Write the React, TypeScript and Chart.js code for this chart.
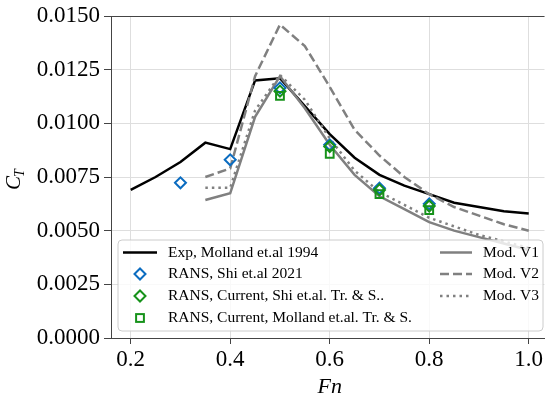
import React, { useEffect, useRef } from 'react';
import { Chart, registerables } from 'chart.js';

Chart.register(...registerables);

// ---- Data ----
const FN_EXP = [0.2, 0.25, 0.3, 0.35, 0.4, 0.45, 0.5, 0.55, 0.6, 0.65, 0.7, 0.75, 0.8, 0.85, 0.9, 0.95, 1.0];
const CT_EXP = [0.0069, 0.0075, 0.0082, 0.0091, 0.0088, 0.0120, 0.0121, 0.0108, 0.0095, 0.0084, 0.0076, 0.0071, 0.0067, 0.0063, 0.0061, 0.0059, 0.0058];

const FN_SHI = [0.3, 0.4, 0.5, 0.6, 0.7, 0.8];
const CT_SHI = [0.00723, 0.0083, 0.01165, 0.0090, 0.00698, 0.00625];

const FN_CUR = [0.5, 0.6, 0.7, 0.8];
const CT_CUR_SHI = [0.0115, 0.00892, 0.0069, 0.00615];
const CT_CUR_MOL = [0.01128, 0.00858, 0.0067, 0.00596];

const FN_MOD = [0.35, 0.4, 0.45, 0.5, 0.55, 0.6, 0.65, 0.7, 0.75, 0.8, 0.85, 0.9, 0.95, 1.0];
const CT_V1 = [0.00643, 0.00674, 0.0103, 0.0122, 0.0107, 0.0090, 0.0076, 0.0066, 0.0060, 0.0054, 0.0050, 0.0047, 0.0044, 0.0041];
const CT_V2 = [0.0075, 0.0079, 0.0122, 0.0146, 0.0136, 0.0117, 0.0097, 0.0085, 0.0075, 0.0067, 0.0061, 0.0057, 0.0053, 0.0050];
const CT_V3 = [0.0070, 0.0070, 0.0106, 0.01225, 0.0111, 0.0093, 0.0078, 0.0068, 0.0062, 0.0056, 0.0052, 0.0048, 0.0045, 0.0042];

const X_TICKS = [0.2, 0.4, 0.6, 0.8, 1.0];
const Y_TICKS = [0, 0.0025, 0.005, 0.0075, 0.01, 0.0125, 0.015];

const LEGEND_LEFT = ['Exp, Molland et.al 1994', 'RANS, Shi et.al 2021', 'RANS, Current, Shi et.al. Tr. & S..', 'RANS, Current, Molland et.al. Tr. & S.'];
const LEGEND_RIGHT = ['Mod. V1', 'Mod. V2', 'Mod. V3'];

const BLUE = '#0b6cc0';
const GREEN = '#16921a';
const GRAY = '#808080';
const SERIF = '"Liberation Serif", "Times New Roman", serif';

const pts = (xs: number[], ys: number[]) => xs.map((x, i) => ({ x, y: ys[i] }));

const overlay = {
  id: 'overlay',
  afterDraw(chart: any) {
    const ctx: CanvasRenderingContext2D = chart.ctx;
    const { left, right, top } = chart.chartArea;
    ctx.save();
    // top spine
    ctx.strokeStyle = '#444';
    ctx.lineWidth = 1;
    ctx.beginPath();
    ctx.moveTo(left, top + 0.5);
    ctx.lineTo(right, top + 0.5);
    ctx.stroke();

    // legend box
    const bx = 118, by = 240, bw = 425, bh = 91, r = 4;
    ctx.beginPath();
    ctx.moveTo(bx + r, by);
    ctx.lineTo(bx + bw - r, by);
    ctx.arcTo(bx + bw, by, bx + bw, by + r, r);
    ctx.lineTo(bx + bw, by + bh - r);
    ctx.arcTo(bx + bw, by + bh, bx + bw - r, by + bh, r);
    ctx.lineTo(bx + r, by + bh);
    ctx.arcTo(bx, by + bh, bx, by + bh - r, r);
    ctx.lineTo(bx, by + r);
    ctx.arcTo(bx, by, bx + r, by, r);
    ctx.closePath();
    ctx.fillStyle = 'rgba(255,255,255,0.8)';
    ctx.fill();
    ctx.strokeStyle = '#cccccc';
    ctx.stroke();

    const rows = [252.5, 274, 296, 318];
    ctx.font = `15.5px ${SERIF}`;
    ctx.fillStyle = '#000';
    ctx.textBaseline = 'middle';
    ctx.textAlign = 'left';
    LEGEND_LEFT.forEach((t, i) => ctx.fillText(t, 168, rows[i]));
    LEGEND_RIGHT.forEach((t, i) => ctx.fillText(t, 483, rows[i]));

    // handles col 1
    ctx.lineWidth = 2.5;
    ctx.strokeStyle = '#000';
    ctx.beginPath();
    ctx.moveTo(123, rows[0]);
    ctx.lineTo(157, rows[0]);
    ctx.stroke();
    const diamond = (cx: number, cy: number, rr: number, col: string) => {
      ctx.strokeStyle = col;
      ctx.lineWidth = 2;
      ctx.beginPath();
      ctx.moveTo(cx - rr, cy);
      ctx.lineTo(cx, cy - rr);
      ctx.lineTo(cx + rr, cy);
      ctx.lineTo(cx, cy + rr);
      ctx.closePath();
      ctx.stroke();
    };
    diamond(140, rows[1], 5.5, BLUE);
    diamond(140, rows[2], 5.5, GREEN);
    ctx.strokeStyle = GREEN;
    ctx.lineWidth = 2;
    ctx.strokeRect(140 - 3.9, rows[3] - 3.9, 7.8, 7.8);

    // handles col 2
    const dashes = [[], [9, 4], [2.5, 4]];
    dashes.forEach((d, i) => {
      ctx.strokeStyle = GRAY;
      ctx.lineWidth = 2.5;
      ctx.setLineDash(d);
      ctx.beginPath();
      ctx.moveTo(440, rows[i]);
      ctx.lineTo(472, rows[i]);
      ctx.stroke();
    });
    ctx.setLineDash([]);

    // x title
    ctx.fillStyle = '#000';
    ctx.font = `italic 22px ${SERIF}`;
    ctx.textAlign = 'center';
    ctx.textBaseline = 'alphabetic';
    ctx.fillText('Fn', chart.scales.x.getPixelForValue(0.6), 393);

    // y title C_T
    ctx.translate(13, 179);
    ctx.rotate(-Math.PI / 2);
    ctx.font = `italic 21px ${SERIF}`;
    const wc = ctx.measureText('C').width;
    ctx.font = `italic 14px ${SERIF}`;
    const wt = ctx.measureText('T').width;
    const total = wc + wt;
    ctx.textAlign = 'left';
    ctx.font = `italic 21px ${SERIF}`;
    ctx.fillText('C', -total / 2, 7);
    ctx.font = `italic 14px ${SERIF}`;
    ctx.fillText('T', -total / 2 + wc - 1, 11);
    ctx.restore();
  },
};

export default function App() {
  const ref = useRef<HTMLCanvasElement>(null);
  useEffect(() => {
    if (!ref.current) return;
    const lineDs = (label: string, data: any, color: string, dash: number[], order: number) => ({
      label,
      data,
      borderColor: color,
      backgroundColor: color,
      borderWidth: 2.5,
      borderDash: dash,
      showLine: true,
      pointRadius: 0,
      tension: 0,
      order,
    });
    const markerDs = (label: string, data: any, color: string, style: string, radius: number, order: number) => ({
      label,
      data,
      borderColor: color,
      backgroundColor: 'rgba(0,0,0,0)',
      pointBorderColor: color,
      pointBackgroundColor: 'rgba(0,0,0,0)',
      pointBorderWidth: 2,
      pointStyle: style,
      pointRadius: radius,
      showLine: false,
      order,
    });
    const chart = new Chart(ref.current, {
      type: 'scatter',
      data: {
        datasets: [
          markerDs('RANS, Current, Molland et.al. Tr. & S.', pts(FN_CUR, CT_CUR_MOL), GREEN, 'rect', 5.5, 1),
          markerDs('RANS, Current, Shi et.al. Tr. & S..', pts(FN_CUR, CT_CUR_SHI), GREEN, 'rectRot', 5.5, 2),
          markerDs('RANS, Shi et.al 2021', pts(FN_SHI, CT_SHI), BLUE, 'rectRot', 5.5, 3),
          lineDs('Mod. V3', pts(FN_MOD, CT_V3), GRAY, [2.5, 4], 4),
          lineDs('Mod. V2', pts(FN_MOD, CT_V2), GRAY, [9, 4], 5),
          lineDs('Mod. V1', pts(FN_MOD, CT_V1), GRAY, [], 6),
          lineDs('Exp, Molland et.al 1994', pts(FN_EXP, CT_EXP), '#000000', [], 7),
        ] as any,
      },
      options: {
        animation: false,
        responsive: false,
        devicePixelRatio: 1,
        layout: { padding: { top: 16, right: 1, left: 0, bottom: 0 } },
        plugins: { legend: { display: false }, tooltip: { enabled: false }, title: { display: false } },
        scales: {
          x: {
            type: 'linear',
            min: 0.2 - 20 / 505,
            max: 1.0 + 16 / 505,
            afterBuildTicks: (s: any) => { s.ticks = X_TICKS.map((v) => ({ value: v })); },
            afterFit: (s: any) => { s.height = 57; s.paddingLeft = 0; s.paddingRight = 0; },
            ticks: {
              font: { family: SERIF, size: 23 },
              color: '#000',
              padding: 2,
              maxRotation: 0,
              callback: (v: any) => Number(v).toFixed(1),
            },
            grid: { color: '#dedede', lineWidth: 1, tickColor: '#444', tickLength: 6 },
            border: { color: '#444', width: 1 },
          },
          y: {
            type: 'linear',
            min: 0,
            max: 0.015,
            afterBuildTicks: (s: any) => { s.ticks = Y_TICKS.map((v) => ({ value: v })); },
            afterFit: (s: any) => { s.width = 111; s.paddingTop = 0; s.paddingBottom = 0; },
            ticks: {
              font: { family: SERIF, size: 23 },
              color: '#000',
              padding: 4,
              callback: (v: any) => Number(v).toFixed(4),
            },
            grid: { color: '#dedede', lineWidth: 1, tickColor: '#444', tickLength: 7 },
            border: { color: '#444', width: 1 },
          },
        },
      },
      plugins: [overlay],
    } as any);
    return () => chart.destroy();
  }, []);
  return (
    <div style={{ position: 'fixed', left: 0, top: 0, width: 552, height: 395, background: '#fff' }}>
      <canvas ref={ref} width={552} height={395} style={{ display: 'block' }} />
    </div>
  );
}
